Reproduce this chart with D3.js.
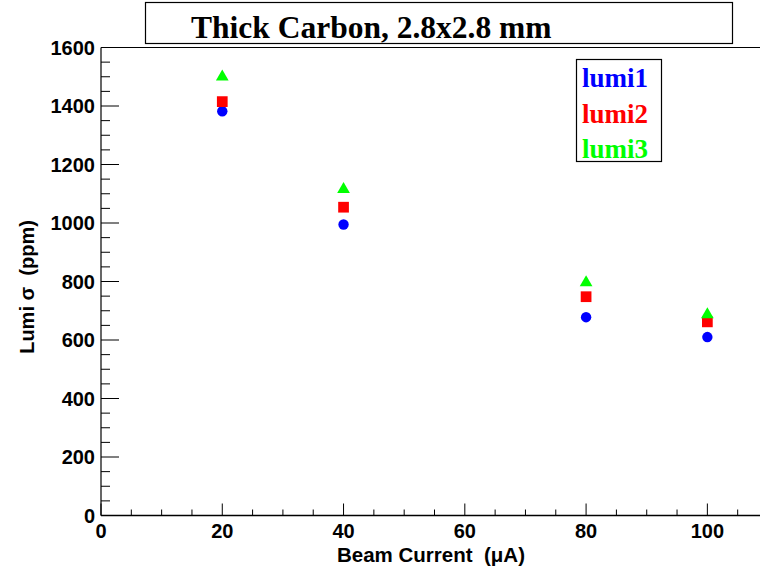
<!DOCTYPE html>
<html>
<head>
<meta charset="UTF-8">
<title>Thick Carbon lumi sigma</title>
<script src="https://cdn.jsdelivr.net/npm/d3@7"></script>
<style>
  body { margin: 0; background: #fff; }
</style>
</head>
<body>
<div id="chart"></div>
<script>
// beam current (uA) and lumi sigma (ppm)
const current = [20, 40, 80, 100];
const lumi1 = [1382, 995, 678, 610];
const lumi2 = [1415, 1054, 748, 662];
const lumi3 = [1500, 1115, 796, 687];
const seriesNames = ["lumi1", "lumi2", "lumi3"];
const seriesColors = ["#0000ff", "#ff0000", "#00ff00"];
const xTicks = [0, 20, 40, 60, 80, 100];
const yTicks = [0, 200, 400, 600, 800, 1000, 1200, 1400, 1600];

const W = 760, H = 575;
const margin = {top: 47.5, right: -8, bottom: 59.5, left: 101};

const svg = d3.select("#chart").append("svg")
    .attr("width", W)
    .attr("height", H);

const x = d3.scaleLinear().domain([0, 110]).range([margin.left, W - margin.right]);
const y = d3.scaleLinear().domain([0, 1600]).range([H - margin.bottom, margin.top]);

const sans = "'Liberation Sans', Arial, Helvetica, sans-serif";
const serif = "'Liberation Serif', 'Times New Roman', serif";

// frame (top line; no right side visible)
svg.append("line")
    .attr("x1", x(0)).attr("x2", W)
    .attr("y1", y(1600)).attr("y2", y(1600))
    .style("stroke", "#000").style("stroke-width", 1.2);

// x axis
const xAxis = svg.append("g").attr("transform", `translate(0,${y(0)})`);
xAxis.append("line")
    .attr("x1", x(0)).attr("x2", W)
    .style("stroke", "#000").style("stroke-width", 1.5);
xAxis.selectAll("line.minor")
    .data(d3.range(0, 111, 5))
    .join("line")
    .attr("class", "minor")
    .attr("x1", d => x(d)).attr("x2", d => x(d))
    .attr("y1", 0).attr("y2", d => d % 20 === 0 ? -12 : -6)
    .style("stroke", "#000").style("stroke-width", 1);
xAxis.selectAll("text")
    .data(xTicks)
    .join("text")
    .attr("x", d => x(d))
    .attr("y", 22)
    .attr("text-anchor", "middle")
    .style("font-family", sans).style("font-weight", "bold").style("font-size", "20px")
    .text(d => d);

// y axis
const yAxis = svg.append("g").attr("transform", `translate(${x(0)},0)`);
yAxis.append("line")
    .attr("y1", y(0)).attr("y2", y(1600))
    .style("stroke", "#000").style("stroke-width", 1.2);
yAxis.selectAll("line.minor")
    .data(d3.range(0, 1601, 50))
    .join("line")
    .attr("class", "minor")
    .attr("y1", d => y(d)).attr("y2", d => y(d))
    .attr("x1", 0).attr("x2", d => d % 200 === 0 ? 18 : 9)
    .style("stroke", "#000").style("stroke-width", 1);
yAxis.selectAll("text")
    .data(yTicks)
    .join("text")
    .attr("x", -6)
    .attr("y", d => y(d) + 7)
    .attr("text-anchor", "end")
    .style("font-family", sans).style("font-weight", "bold").style("font-size", "20px")
    .text(d => d);

// axis titles
svg.append("text")
    .attr("x", 431).attr("y", 562)
    .attr("text-anchor", "middle")
    .style("font-family", sans).style("font-weight", "bold").style("font-size", "20.5px")
    .text("Beam Current\u00A0\u00A0(\u03BCA)");
svg.append("text")
    .attr("transform", "translate(34,287) rotate(-90)")
    .attr("text-anchor", "middle")
    .style("font-family", sans).style("font-weight", "bold").style("font-size", "20px")
    .text("Lumi \u03C3\u00A0\u00A0(ppm)");

// markers
const data = [lumi1, lumi2, lumi3];
const shapes = [d3.symbolCircle, d3.symbolSquare, d3.symbolTriangle];
const sizes = [85, 115, 70];
data.forEach((vals, i) => {
    svg.append("g")
        .selectAll("path")
        .data(vals)
        .join("path")
        .attr("d", d3.symbol().type(shapes[i]).size(sizes[i]))
        .attr("transform", (d, j) => `translate(${x(current[j])},${y(d)})`)
        .style("fill", seriesColors[i]);
});

// title box
svg.append("rect")
    .attr("x", 145.5).attr("y", 2.5)
    .attr("width", 587).attr("height", 41)
    .style("fill", "#fff").style("stroke", "#000").style("stroke-width", 1.2);
svg.append("text")
    .attr("x", 191).attr("y", 38)
    .style("font-family", serif).style("font-weight", "bold").style("font-size", "31.5px")
    .text("Thick Carbon, 2.8x2.8 mm");

// legend
svg.append("rect")
    .attr("x", 576.5).attr("y", 59.5)
    .attr("width", 85).attr("height", 102)
    .style("fill", "#fff").style("stroke", "#000").style("stroke-width", 1.2);
svg.append("g")
    .selectAll("text")
    .data(seriesNames)
    .join("text")
    .attr("x", 582)
    .attr("y", (d, i) => 87 + i * 35.5)
    .style("font-family", serif).style("font-weight", "bold").style("font-size", "27px")
    .style("fill", (d, i) => seriesColors[i])
    .text(d => d);
</script>
</body>
</html>
